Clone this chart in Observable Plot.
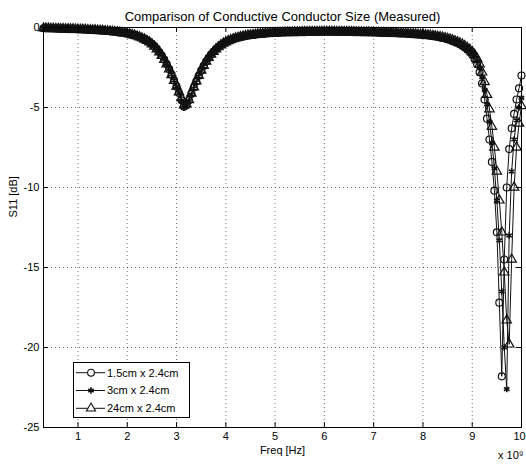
<!DOCTYPE html>
<html>
<head>
<meta charset="utf-8">
<script src="https://cdn.jsdelivr.net/npm/d3@7"></script>
<script src="https://cdn.jsdelivr.net/npm/@observablehq/plot@0.6"></script>
<style>
  html, body { margin: 0; padding: 0; background: #fff; }
  #wrap { position: relative; width: 526px; height: 465px; font-family: "Liberation Sans", Arial, sans-serif; }
</style>
</head>
<body>
<div id="wrap"></div>
<script>
// Frequency sweep points (GHz; axis shown as x 10^9 Hz)
const freq = [
0.3,0.35,0.4,0.45,0.5,0.55,0.6,0.65,0.7,0.75,
0.8,0.85,0.9,0.95,1,1.05,1.1,1.15,1.2,1.25,
1.3,1.35,1.4,1.45,1.5,1.55,1.6,1.65,1.7,1.75,
1.8,1.85,1.9,1.95,2,2.05,2.1,2.15,2.2,2.25,
2.3,2.35,2.4,2.45,2.5,2.55,2.6,2.65,2.7,2.75,
2.8,2.85,2.9,2.95,3,3.05,3.1,3.15,3.2,3.25,
3.3,3.35,3.4,3.45,3.5,3.55,3.6,3.65,3.7,3.75,
3.8,3.85,3.9,3.95,4,4.05,4.1,4.15,4.2,4.25,
4.3,4.35,4.4,4.45,4.5,4.55,4.6,4.65,4.7,4.75,
4.8,4.85,4.9,4.95,5,5.05,5.1,5.15,5.2,5.25,
5.3,5.35,5.4,5.45,5.5,5.55,5.6,5.65,5.7,5.75,
5.8,5.85,5.9,5.95,6,6.05,6.1,6.15,6.2,6.25,
6.3,6.35,6.4,6.45,6.5,6.55,6.6,6.65,6.7,6.75,
6.8,6.85,6.9,6.95,7,7.05,7.1,7.15,7.2,7.25,
7.3,7.35,7.4,7.45,7.5,7.55,7.6,7.65,7.7,7.75,
7.8,7.85,7.9,7.95,8,8.05,8.1,8.15,8.2,8.25,
8.3,8.35,8.4,8.45,8.5,8.55,8.6,8.65,8.7,8.75,
8.8,8.85,8.9,8.95,9,9.05,9.1,9.15,9.2,9.25,
9.3,9.35,9.4,9.45,9.5,9.55,9.6,9.65,9.7,9.75,
9.8,9.85,9.9,9.95,10];

// S11 [dB], 1.5cm x 2.4cm (circles)
const s11_15cm = [
-0.05,-0.05,-0.06,-0.06,-0.07,-0.07,-0.08,-0.08,-0.09,-0.09,
-0.10,-0.10,-0.11,-0.11,-0.12,-0.12,-0.13,-0.13,-0.14,-0.15,
-0.16,-0.17,-0.18,-0.19,-0.20,-0.21,-0.22,-0.24,-0.25,-0.27,
-0.29,-0.31,-0.33,-0.35,-0.38,-0.41,-0.45,-0.49,-0.54,-0.60,
-0.66,-0.73,-0.81,-0.91,-1.03,-1.17,-1.34,-1.53,-1.75,-2.00,
-2.28,-2.60,-2.95,-3.32,-3.70,-4.10,-4.55,-4.95,-4.85,-4.55,
-4.15,-3.75,-3.38,-3.02,-2.70,-2.40,-2.13,-1.90,-1.70,-1.52,
-1.36,-1.22,-1.10,-1.00,-0.91,-0.84,-0.78,-0.72,-0.67,-0.63,
-0.59,-0.56,-0.53,-0.50,-0.48,-0.46,-0.44,-0.42,-0.41,-0.40,
-0.38,-0.37,-0.36,-0.35,-0.34,-0.33,-0.33,-0.32,-0.32,-0.31,
-0.31,-0.30,-0.30,-0.30,-0.29,-0.29,-0.29,-0.28,-0.28,-0.28,
-0.28,-0.28,-0.27,-0.27,-0.27,-0.27,-0.27,-0.27,-0.27,-0.27,
-0.27,-0.27,-0.28,-0.28,-0.28,-0.28,-0.29,-0.29,-0.29,-0.30,
-0.30,-0.30,-0.31,-0.31,-0.32,-0.32,-0.33,-0.33,-0.34,-0.34,
-0.35,-0.35,-0.36,-0.36,-0.37,-0.38,-0.38,-0.39,-0.40,-0.41,
-0.42,-0.43,-0.44,-0.45,-0.47,-0.48,-0.50,-0.52,-0.54,-0.56,
-0.59,-0.62,-0.65,-0.69,-0.73,-0.78,-0.84,-0.90,-0.97,-1.05,
-1.14,-1.25,-1.37,-1.53,-1.72,-1.98,-2.30,-2.80,-3.50,-4.50,
-5.7,-7.0,-8.4,-10.2,-12.8,-17.2,-21.8,-14.5,-10.0,-7.6,
-6.3,-5.4,-4.5,-3.8,-3.0];

// S11 [dB], 3cm x 2.4cm (stars)
const s11_3cm = [
-0.04,-0.05,-0.05,-0.06,-0.06,-0.07,-0.07,-0.08,-0.08,-0.09,
-0.09,-0.10,-0.10,-0.11,-0.11,-0.12,-0.13,-0.13,-0.14,-0.15,
-0.15,-0.16,-0.17,-0.18,-0.19,-0.20,-0.22,-0.23,-0.25,-0.26,
-0.28,-0.30,-0.32,-0.35,-0.37,-0.40,-0.44,-0.48,-0.53,-0.59,
-0.65,-0.72,-0.80,-0.90,-1.01,-1.15,-1.32,-1.51,-1.73,-1.98,
-2.26,-2.58,-2.93,-3.31,-3.70,-4.10,-4.58,-5.02,-4.92,-4.60,
-4.20,-3.80,-3.42,-3.05,-2.72,-2.42,-2.15,-1.91,-1.71,-1.53,
-1.37,-1.23,-1.11,-1.01,-0.92,-0.85,-0.78,-0.73,-0.68,-0.63,
-0.60,-0.56,-0.53,-0.51,-0.48,-0.46,-0.44,-0.43,-0.41,-0.40,
-0.39,-0.37,-0.36,-0.35,-0.35,-0.34,-0.33,-0.33,-0.32,-0.32,
-0.31,-0.31,-0.30,-0.30,-0.30,-0.29,-0.29,-0.29,-0.29,-0.28,
-0.28,-0.28,-0.28,-0.28,-0.27,-0.27,-0.27,-0.27,-0.28,-0.28,
-0.28,-0.28,-0.28,-0.29,-0.29,-0.29,-0.29,-0.30,-0.30,-0.30,
-0.31,-0.31,-0.31,-0.32,-0.32,-0.33,-0.33,-0.34,-0.34,-0.35,
-0.35,-0.36,-0.36,-0.37,-0.38,-0.38,-0.39,-0.40,-0.40,-0.41,
-0.42,-0.43,-0.44,-0.46,-0.47,-0.49,-0.50,-0.52,-0.54,-0.56,
-0.58,-0.61,-0.64,-0.68,-0.72,-0.76,-0.81,-0.87,-0.94,-1.01,
-1.09,-1.19,-1.30,-1.43,-1.59,-1.78,-2.10,-2.50,-3.10,-3.90,
-4.8,-5.9,-7.2,-8.8,-10.8,-13.3,-16.5,-20.0,-22.6,-13.0,
-9.0,-7.0,-5.8,-5.0,-4.4];

// S11 [dB], 24cm x 2.4cm (triangles)
const s11_24cm = [
-0.05,-0.06,-0.06,-0.07,-0.07,-0.08,-0.08,-0.09,-0.09,-0.10,
-0.10,-0.11,-0.11,-0.12,-0.12,-0.13,-0.14,-0.14,-0.15,-0.16,
-0.17,-0.17,-0.18,-0.19,-0.20,-0.22,-0.23,-0.24,-0.26,-0.28,
-0.29,-0.31,-0.34,-0.36,-0.39,-0.42,-0.46,-0.50,-0.55,-0.61,
-0.67,-0.74,-0.82,-0.92,-1.04,-1.18,-1.35,-1.54,-1.76,-2.01,
-2.29,-2.61,-2.96,-3.32,-3.68,-4.04,-4.40,-4.85,-4.80,-4.52,
-4.12,-3.73,-3.36,-3.01,-2.69,-2.39,-2.12,-1.89,-1.69,-1.51,
-1.35,-1.22,-1.10,-1.00,-0.91,-0.84,-0.78,-0.72,-0.67,-0.63,
-0.59,-0.56,-0.53,-0.50,-0.48,-0.46,-0.44,-0.42,-0.41,-0.39,
-0.38,-0.37,-0.36,-0.35,-0.34,-0.33,-0.32,-0.32,-0.31,-0.31,
-0.30,-0.30,-0.29,-0.29,-0.29,-0.28,-0.28,-0.28,-0.27,-0.27,
-0.27,-0.27,-0.27,-0.26,-0.26,-0.26,-0.26,-0.26,-0.26,-0.27,
-0.27,-0.27,-0.27,-0.27,-0.28,-0.28,-0.28,-0.29,-0.29,-0.29,
-0.30,-0.30,-0.30,-0.31,-0.31,-0.32,-0.32,-0.33,-0.33,-0.34,
-0.34,-0.35,-0.35,-0.36,-0.37,-0.37,-0.38,-0.39,-0.39,-0.40,
-0.41,-0.42,-0.43,-0.44,-0.46,-0.47,-0.49,-0.50,-0.52,-0.54,
-0.57,-0.59,-0.62,-0.66,-0.70,-0.74,-0.79,-0.85,-0.91,-0.98,
-1.06,-1.15,-1.26,-1.38,-1.52,-1.70,-1.95,-2.30,-2.80,-3.40,
-4.2,-5.1,-6.2,-7.5,-9.0,-10.8,-12.8,-15.3,-18.3,-19.8,
-14.5,-10.0,-7.5,-6.0,-4.9];

const seriesNames = ["1.5cm x 2.4cm", "3cm x 2.4cm", "24cm x 2.4cm"];
const seriesSymbols = ["circle", "asterisk", "triangle"];
const xTicks = [1, 2, 3, 4, 5, 6, 7, 8, 9, 10];
const yTicks = [0, -5, -10, -15, -20, -25];

const seriesValues = [s11_15cm, s11_3cm, s11_24cm];
const tables = seriesValues.map((vals, k) =>
  freq.map((f, i) => ({f, s: vals[i], name: seriesNames[k]})));

const ink = "#111";
const seriesMarks = tables.flatMap((t, k) => [
  Plot.line(t, {x: "f", y: "s", stroke: ink, strokeWidth: 1}),
  Plot.dot(t, {x: "f", y: "s", symbol: () => seriesSymbols[k], r: k === 1 ? 3 : 3.5,
               stroke: ink, fill: "none", strokeWidth: k === 1 ? 1.6 : 1.2})
]);

const xFont = '"Liberation Sans", Arial, sans-serif';
const chart = Plot.plot({
  width: 526,
  height: 465,
  marginTop: 27,
  marginLeft: 43,
  marginRight: 5,
  marginBottom: 38,
  style: {fontFamily: xFont, fontSize: "11px", color: "#000", background: "#fff"},
  x: {domain: [0.3, 10]},
  y: {domain: [-25, 0]},
  symbol: {type: "identity"},
  marks: [
    Plot.ruleX(xTicks, {x: d => d, stroke: "#000", strokeOpacity: 0.55, strokeDasharray: "1,3"}),
    Plot.ruleY(yTicks, {y: d => d, stroke: "#000", strokeOpacity: 0.55, strokeDasharray: "1,3"}),
    ...seriesMarks,
    Plot.frame({stroke: "#000", strokeWidth: 1}),
    // inward tick marks on all four sides
    Plot.ruleX(xTicks, {x: d => d, y1: -25, y2: -24.7, stroke: "#000"}),
    Plot.ruleX(xTicks, {x: d => d, y1: 0, y2: -0.3, stroke: "#000"}),
    Plot.ruleY(yTicks, {y: d => d, x1: 0.3, x2: 0.4, stroke: "#000"}),
    Plot.ruleY(yTicks, {y: d => d, x1: 9.9, x2: 10, stroke: "#000"}),
    Plot.axisX(xTicks.slice(0, -1), {tickSize: 0, tickPadding: 5, tickFormat: d => String(d), label: null, fontSize: 11}),
    Plot.axisX(xTicks.slice(-1), {tickSize: 0, tickPadding: 5, dx: -2, tickFormat: d => String(d), label: null, fontSize: 11}),
    Plot.axisY(yTicks, {tickSize: 0, tickPadding: 4, tickFormat: d => String(d), label: null, fontSize: 11}),
    Plot.text(["Comparison of Conductive Conductor Size (Measured)"], {frameAnchor: "top", dy: -16, fontSize: 13}),
    Plot.text(["Freq [Hz]"], {frameAnchor: "bottom", dy: 26, fontSize: 11}),
    Plot.text(["S11 [dB]"], {frameAnchor: "left", dx: -30, dy: -10, rotate: -90, fontSize: 11}),
    Plot.text(["x 10⁹"], {frameAnchor: "bottom-right", dy: 31, dx: 2, textAnchor: "end", fontSize: 11})
  ]
});
document.getElementById("wrap").appendChild(chart);

// Legend box inside the plot area
const leg = d3.select("#wrap").append("svg")
  .style("position", "absolute").style("left", "73px").style("top", "362px")
  .attr("width", 117).attr("height", 56);
leg.append("rect").attr("x", 0.5).attr("y", 0.5).attr("width", 116).attr("height", 55)
  .attr("fill", "#fff").attr("stroke", "#000");
const symMap = {circle: d3.symbolCircle, asterisk: d3.symbolAsterisk, triangle: d3.symbolTriangle};
seriesNames.forEach((name, i) => {
  const y = 10.7 + i * 17.8;
  leg.append("line").attr("x1", 3).attr("x2", 32).attr("y1", y).attr("y2", y)
    .attr("stroke", ink).attr("stroke-width", 1);
  leg.append("path").attr("transform", `translate(18,${y})`)
    .attr("d", d3.symbol(symMap[seriesSymbols[i]], i === 1 ? 28 : 36)())
    .attr("fill", "#fff").attr("stroke", ink).attr("stroke-width", i === 1 ? 1.6 : 1.1);
  leg.append("text").attr("x", 34).attr("y", y).attr("dy", "0.35em")
    .attr("font-size", 11).attr("font-family", xFont)
    .text(name);
});
</script>
</body>
</html>
